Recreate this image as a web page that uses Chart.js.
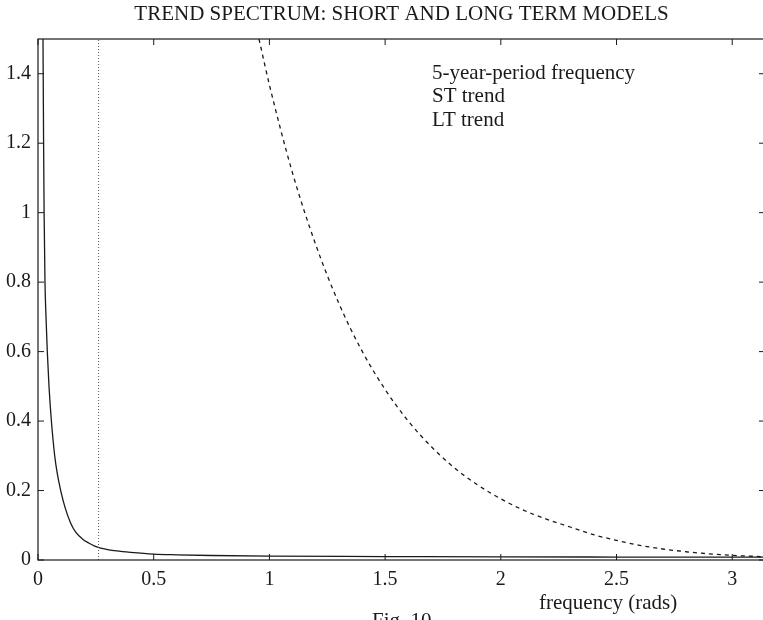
<!DOCTYPE html>
<html>
<head>
<meta charset="utf-8">
<script src="https://cdn.jsdelivr.net/npm/chart.js@4.4.1/dist/chart.umd.min.js"></script>
<style>
  html, body { margin: 0; padding: 0; background: #fff; overflow: hidden; }
  #wrap { width: 800px; height: 620px; }
</style>
</head>
<body>
<div id="wrap"><canvas id="spectrum" width="800" height="620"></canvas></div>
<script>
const chartTitle = "TREND SPECTRUM: SHORT AND LONG TERM MODELS";
const xAxisLabel = "frequency (rads)";
const caption = "Fig. 10";
const seriesNames = ["5-year-period frequency", "ST trend", "LT trend"];

// frequency of a 5-year cycle (vertical dotted line)
const fiveYearFreq = 0.2618;

// short term trend spectrum (solid)
const stFreq  = [0.0216, 0.0242, 0.0264, 0.0302, 0.0346, 0.0402, 0.0475, 0.0579, 0.0722, 0.083, 0.0981, 0.1175, 0.1413, 0.163, 0.193, 0.219, 0.245, 0.271, 0.30, 0.34, 0.4, 0.5, 0.6, 0.75, 1.0, 1.5, 2.0, 2.5, 3.1416];
const stValue = [1.5, 1.2, 1.0, 0.8, 0.7, 0.6, 0.5, 0.4, 0.3, 0.25, 0.2, 0.15, 0.106, 0.08, 0.06, 0.049, 0.04, 0.034, 0.03, 0.026, 0.022, 0.017, 0.015, 0.013, 0.011, 0.01, 0.009, 0.0085, 0.008];

// long term trend spectrum (dashed)
const ltFreq  = [0.955, 1.0, 1.1, 1.2, 1.3, 1.4, 1.5, 1.6, 1.7, 1.8, 1.9, 2.0, 2.1, 2.2, 2.3, 2.4, 2.5, 2.6, 2.7, 2.8, 2.9, 3.0, 3.1, 3.1416];
const ltValue = [1.5, 1.368, 1.114, 0.908, 0.739, 0.602, 0.491, 0.4, 0.326, 0.265, 0.216, 0.176, 0.143, 0.117, 0.095, 0.073, 0.0566, 0.0424, 0.0317, 0.0238, 0.0178, 0.0133, 0.0105, 0.0095];

const xTicks = [0, 0.5, 1, 1.5, 2, 2.5, 3];
const yTicks = [0, 0.2, 0.4, 0.6, 0.8, 1, 1.2, 1.4];

const serif = "'Liberation Serif', 'DejaVu Serif', serif";
const ink = "#1a1a1a";

function points(xs, ys)
{
  return xs.map((x, i) => ({x: x, y: ys[i]}));
}

function plainNumber(v)
{
  return String(Number(v.toFixed(2)));
}

// frame, inward ticks and loose texts
const paperPlugin = {
  id: "paper",
  afterDraw(chart)
  {
    const ctx = chart.ctx;
    const area = chart.chartArea;
    const xs = chart.scales.x;
    const ys = chart.scales.y;
    ctx.save();
    ctx.strokeStyle = ink;
    ctx.lineWidth = 1.2;
    ctx.strokeRect(area.left, area.top, area.right - area.left, area.bottom - area.top);

    ctx.lineWidth = 1;
    const len = 6;
    ctx.beginPath();
    xTicks.forEach(v =>
    {
      const px = xs.getPixelForValue(v);
      ctx.moveTo(px, area.bottom); ctx.lineTo(px, area.bottom - len);
      ctx.moveTo(px, area.top); ctx.lineTo(px, area.top + len);
    });
    yTicks.forEach(v =>
    {
      const py = ys.getPixelForValue(v);
      ctx.moveTo(area.left, py); ctx.lineTo(area.left + len, py);
      ctx.moveTo(area.right, py); ctx.lineTo(area.right - len, py);
    });
    ctx.stroke();

    ctx.fillStyle = ink;
    ctx.textBaseline = "middle";
    ctx.font = "21px " + serif;
    ctx.textAlign = "center";
    ctx.fillText(chartTitle, (area.left + area.right) / 2, 14);

    ctx.textAlign = "left";
    seriesNames.forEach((name, i) =>
    {
      ctx.fillText(name, 432, 73 + i * 23.5);
    });

    ctx.fillText(xAxisLabel, 539, 603);
    ctx.textBaseline = "top";
    ctx.fillText(caption, 372, 611);
    ctx.restore();
  }
};

const chart = new Chart(document.getElementById("spectrum"), {
  type: "line",
  data: {
    datasets: [
      {
        label: seriesNames[0],
        data: [{x: fiveYearFreq, y: 0}, {x: fiveYearFreq, y: 1.5}],
        borderColor: "#555",
        borderWidth: 1,
        borderDash: [1, 2],
        pointRadius: 0,
      },
      {
        label: seriesNames[1],
        data: points(stFreq, stValue),
        borderColor: ink,
        borderWidth: 1.3,
        cubicInterpolationMode: "monotone",
        pointRadius: 0,
      },
      {
        label: seriesNames[2],
        data: points(ltFreq, ltValue),
        borderColor: ink,
        borderWidth: 1.3,
        borderDash: [4, 4],
        cubicInterpolationMode: "monotone",
        pointRadius: 0,
      },
    ],
  },
  options: {
    responsive: false,
    animation: false,
    devicePixelRatio: 1,
    layout: {padding: {top: 39, right: 35, left: 0, bottom: 0}},
    plugins: {
      legend: {display: false},
      title: {display: false},
      tooltip: {enabled: false},
    },
    scales: {
      x: {
        type: "linear",
        min: 0,
        max: Math.PI,
        afterBuildTicks: scale => { scale.ticks = xTicks.map(v => ({value: v})); },
        afterFit: scale => { scale.height = 60; },
        grid: {display: false, drawTicks: false},
        border: {display: false},
        ticks: {color: ink, padding: 8, font: {family: serif, size: 20}, callback: plainNumber},
      },
      y: {
        type: "linear",
        min: 0,
        max: 1.5,
        afterBuildTicks: scale => { scale.ticks = yTicks.map(v => ({value: v})); },
        afterFit: scale => { scale.width = 38; },
        grid: {display: false, drawTicks: false},
        border: {display: false},
        ticks: {color: ink, padding: 7, font: {family: serif, size: 20}, callback: plainNumber},
      },
    },
  },
  plugins: [paperPlugin],
});
</script>
</body>
</html>
